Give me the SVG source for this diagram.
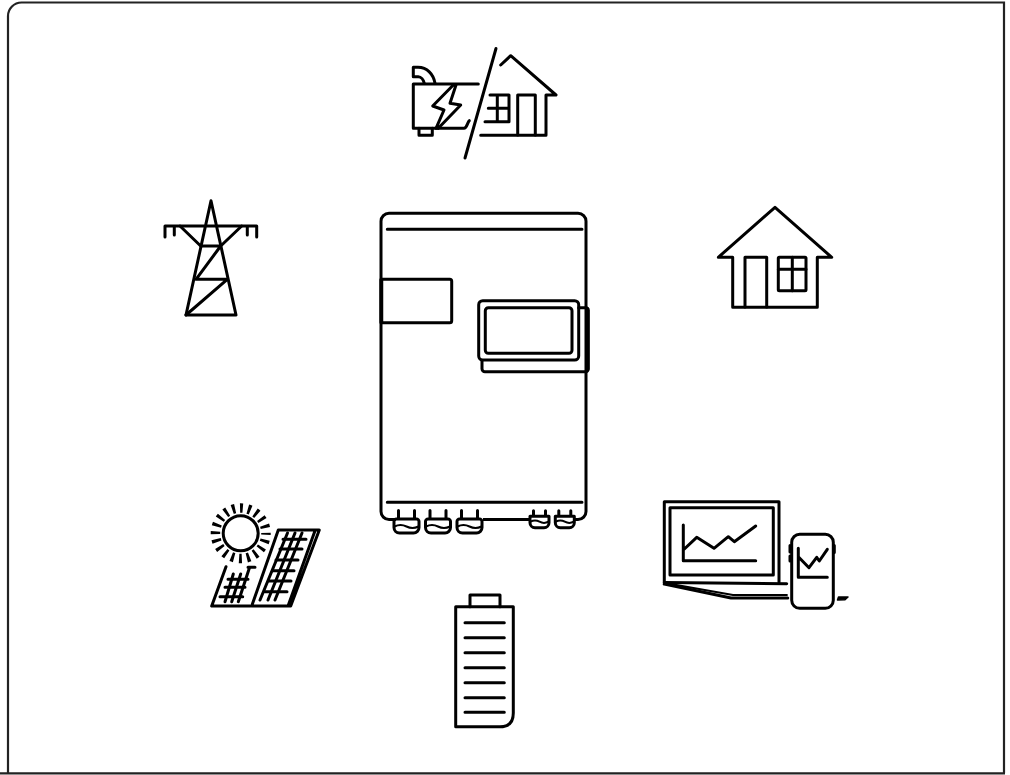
<svg xmlns="http://www.w3.org/2000/svg" width="1010" height="775" viewBox="0 0 1010 775">
<style>
.l{fill:none;stroke:#000;stroke-width:3;stroke-linecap:round;stroke-linejoin:round}
.t{fill:none;stroke:#000;stroke-width:1.800;stroke-linecap:round;stroke-linejoin:round}
.f{fill:none;stroke:#222;stroke-width:2.200}
</style>
<defs>
<g id="gland" class="l">
<path d="M3,0V8M19,0V8M1,8.500H21a2.500,2.500 0 0 1 2.500,2.500V17a5.500,5.500 0 0 1 -5.500,5.500H4a5.500,5.500 0 0 1 -5.500,-5.500V11a2.500,2.500 0 0 1 2.500,-2.500Z"/>
<path d="M-1,16q6,-3 12,0t12,0" stroke-width="2"/>
</g>
<g id="glandS" class="l">
<path d="M3,0V5M15,0V5M-0.500,5.500H18.500V12a5,5 0 0 1 -5,5H4.500a5,5 0 0 1 -5,-5Z"/>
<path d="M0,11q4.500,-2.500 9,0t9,0" stroke-width="2"/>
</g>
</defs>
<g id="frame"><path class="f" d="M1004,773V2.500H21.500A13.500,13.500 0 0 0 8,16V773M0,773.300H1005"/></g>
<g id="connectors"></g>
<g id="generator-house" class="l">
<path d="M496,48.500L465,158"/>
<path d="M500.700,65L510.700,55.700L556,95H546V135.300H480.700"/>
<path d="M517.700,135V95H535.300V135"/>
<path d="M490,95H509V121.700H485M488.300,108.300H509M497.300,95V121.700"/>
<path d="M478.300,84H413.300V128.300H464M464,128.300C467,128.300 467.500,122 469.300,120.700"/>
<path d="M419,128.300V135.300H432.300V128.300"/>
<path d="M413.300,76.700V67.300H418C427,67.300 433.500,74 435,83.300M413.300,76.700H418.300C421,76.700 423.500,80 424.300,83.300"/>
<path d="M453.300,85L432.700,106L444,110L436,128.300M456,85L450,103.300L460.700,105L438.300,128.300"/>
</g>
<g id="tower" class="l">
<path d="M186,315L211,200.700L236,315ZM165,237V226H256.700V237M174.300,226V235M247.300,226V235"/>
<path d="M180,226L200.700,246H220.700L241.700,226M220.700,246L196,279.300H227.300L186,315"/>
</g>
<g id="house" class="l">
<path d="M732.700,257.300H718.300L775,207.300L831.700,257.300H817.300V307.300H732.700Z"/>
<path d="M745,307V257.300H766.700V307"/>
<rect x="778.300" y="257.300" width="27.700" height="33.400" rx="1"/>
<path d="M792.300,257.300V290.700M778.300,269.300H806"/>
</g>
<g id="inverter">
<rect class="l" x="381" y="213.300" width="205" height="306.200" rx="8"/>
<path class="l" d="M387.300,229.300H582M387.300,502.300H582"/>
<path class="l" d="M381,279.300H449.700a2,2 0 0 1 2,2V320.700a2,2 0 0 1 -2,2H381Z"/>
<path d="M381.500,279.300V322.700" stroke="#000" stroke-width="3.500" fill="none"/>
<rect class="l" x="478.700" y="300.700" width="100" height="59.300" rx="4"/>
<rect class="l" x="485.300" y="307.700" width="86.700" height="45.600" rx="3"/>
<path class="l" d="M578.700,307.700H586a2.300,2.300 0 0 1 2.300,2.300V369a2.700,2.700 0 0 1 -2.700,2.700H485a3,3 0 0 1 -3,-3V360.700"/>
<path d="M587.500,310V370" stroke="#000" stroke-width="3.500" fill="none"/>
<g id="glands">
<rect x="396" y="518" width="87" height="15" fill="#fff"/>
<rect x="530" y="518" width="45" height="11" fill="#fff"/>
<use href="#gland" x="395.500" y="510.500"/>
<use href="#gland" x="427" y="510.500"/>
<use href="#gland" x="458.500" y="510.500"/>
<use href="#glandS" x="530.500" y="510.700"/>
<use href="#glandS" x="555.800" y="510.700"/>
</g>
</g>
<g id="solar" class="l">
<circle cx="240.700" cy="533.300" r="17.500"/>
<circle cx="240.700" cy="533.300" r="25.250" stroke-width="9.500" stroke-linecap="butt" stroke-dasharray="2.900 5.032" stroke-dashoffset="1.450"/>
<path d="M278.300,530H319.300L290.700,606H251.700ZM315,530.700L288.300,605.300"/>
<path d="M283,539.300H306M280,549H302M276,560H298M272.500,570.700H294M269,581H291M265,591.700H287"/>
<path d="M287.500,533L260,600M295,533L268,600M302,533L275,600"/>
<path d="M226,566.700L211.700,606H250M248,567.300H255"/>
<path d="M228,579.300H248M225,587.300H245M220,596.700H242.700"/>
<path d="M233.300,574L225,601.700M240.700,574L231.700,601.700M249.300,568.300L238.300,601.700"/>
</g>
<g id="battery" class="l">
<path d="M455.700,606.700H513.300V713Q513.300,726.700 500,726.700H455.700Z"/>
<path d="M470,606.700V595H500V606.700"/>
<path d="M465,622.700H504.300M465,637.700H504.300M465,652.700H504.300M465,667.700H504.300M465,682.700H504.300M465,697.700H504.300M465,712.300H504.300"/>
</g>
<g id="monitor" class="l">
<path d="M664.300,582.500V501.700H779V582"/>
<rect x="670" y="507.700" width="103.300" height="67.300"/>
<path d="M683.300,525V560.700H755.700M683.300,550L696.700,537.300L714,548.300L728.300,536.700L734.300,541.700L755.700,526"/>
<path d="M664.300,582.500L786.700,583.700"/>
<path class="t" d="M668,583.500L733,595H787"/>
<path d="M664.300,584L731,598H787.700" stroke-width="3.200"/>
<rect x="791.700" y="534.300" width="41.600" height="74" rx="8"/>
<path d="M790,545.500V552M790,556V561M834.300,545.500V552.500"/>
<path d="M798.300,548.300V577.300H827.300M798.300,556.700L809,567.700L816.700,557.300L819.300,561L827.300,549.300"/>
<path d="M837.500,600L838.500,597H848L845,599.800Z" fill="#000" stroke-width="1.500"/>
</g>
</svg>
